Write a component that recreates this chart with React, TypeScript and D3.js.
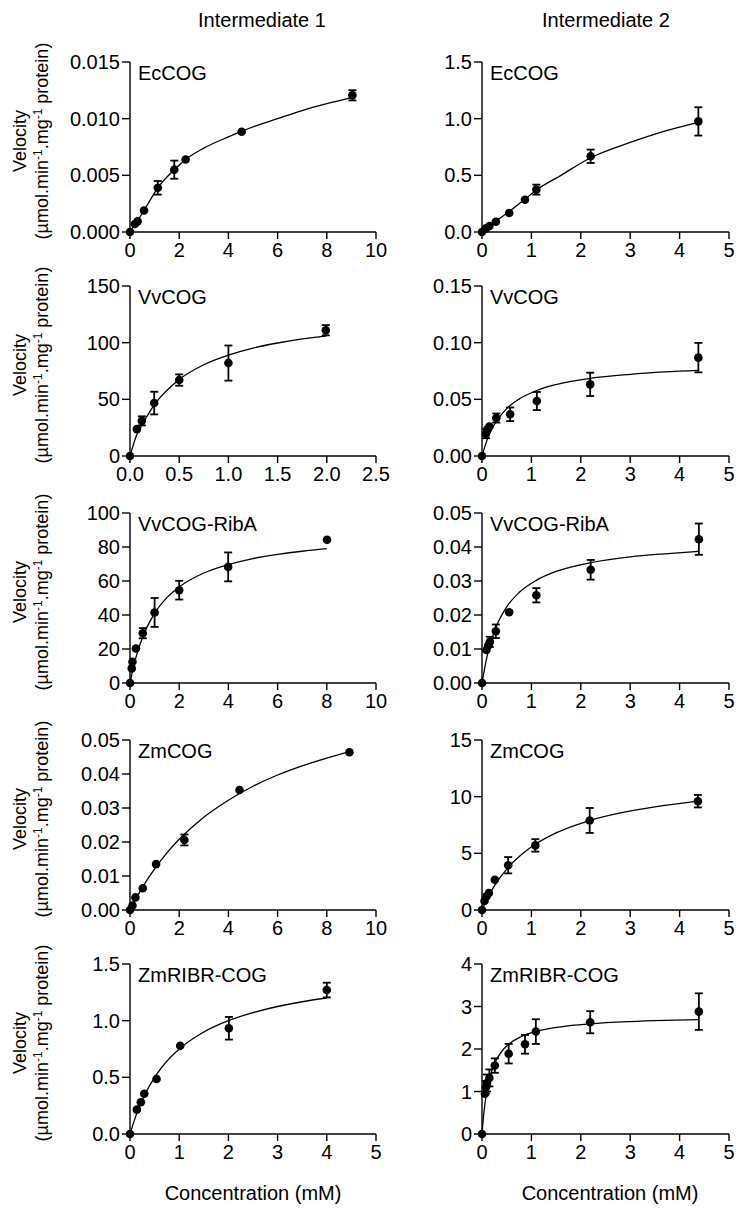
import React from 'react';
import * as d3 from 'd3';

const FONT = '"Liberation Sans", Arial, Helvetica, sans-serif';

const columnTitles = ['Intermediate 1', 'Intermediate 2'];
const xAxisTitle = 'Concentration (mM)';

// ---------- Intermediate 1 ----------
// EcCOG
const i1EcX = [0, 0.2, 0.31, 0.57, 1.13, 1.8, 2.26, 4.54, 9.04];
const i1EcY = [0, 0.0007, 0.00094, 0.0019, 0.0039, 0.0055, 0.0064, 0.00885, 0.01206];
const i1EcErr = [0, 0.0002, 0.00035, 0.0001, 0.0006, 0.0008, 0.0001, 0.00035, 0.00045];
const i1EcFitX = [0, 0.25, 0.57, 1.13, 1.8, 2.26, 3, 4, 4.54, 6, 7, 8, 9.04];
const i1EcFitY = [0, 0.0008, 0.0019, 0.0039, 0.0055, 0.0064, 0.0074, 0.0084, 0.0089, 0.01, 0.01072, 0.01132, 0.01188];
// VvCOG
const i1VvX = [0, 0.07, 0.12, 0.246, 0.5, 1.0, 1.99];
const i1VvY = [0, 23.7, 31, 46.7, 67, 82, 111];
const i1VvErr = [0, 2, 4, 10, 5, 15.5, 4.5];
const i1VvFitX = [0, 0.07, 0.12, 0.25, 0.5, 0.75, 1, 1.25, 1.5, 1.75, 2];
const i1VvFitY = [0, 19, 27, 45.5, 67.5, 80.5, 89, 95.2, 99.7, 103.3, 106];
// VvCOG-RibA
const i1VrX = [0, 0.07, 0.1, 0.24, 0.52, 1.0, 2.0, 3.99, 8.01];
const i1VrY = [0, 8.6, 12.5, 20.3, 29.3, 41.5, 54.6, 68.3, 84.3];
const i1VrErr = [0, 1.5, 2, 1.5, 3, 8.5, 5.5, 8.5, 1.5];
const i1VrFitX = [0, 0.1, 0.25, 0.5, 1, 1.5, 2, 3, 4, 5, 6, 7, 8];
const i1VrFitY = [0, 6.9, 15.5, 26.5, 41, 50.2, 56.5, 64.7, 69.7, 73.2, 75.6, 77.5, 79];
// ZmCOG
const i1ZmX = [0, 0.1, 0.22, 0.52, 1.06, 2.21, 4.45, 8.92];
const i1ZmY = [0, 0.0013, 0.0037, 0.0064, 0.0135, 0.0206, 0.0353, 0.0464];
const i1ZmErr = [0, 0.0002, 0.0003, 0.0003, 0.0003, 0.0016, 0.0003, 0.0008];
const i1ZmFitX = [0, 0.5, 1, 1.5, 2, 3, 4, 5, 6, 7, 8, 8.92];
const i1ZmFitY = [0, 0.0066, 0.0121, 0.0168, 0.0208, 0.0273, 0.0323, 0.0364, 0.0397, 0.0424, 0.0447, 0.0466];
// ZmRIBR-COG
const i1ZrX = [0, 0.14, 0.22, 0.29, 0.54, 1.02, 2.01, 4.0];
const i1ZrY = [0, 0.215, 0.28, 0.355, 0.485, 0.778, 0.933, 1.27];
const i1ZrErr = [0, 0.03, 0.02, 0.035, 0.02, 0.01, 0.1, 0.065];
const i1ZrFitX = [0, 0.14, 0.29, 0.54, 0.75, 1.02, 1.5, 2, 2.5, 3, 3.5, 4];
const i1ZrFitY = [0, 0.184, 0.337, 0.526, 0.643, 0.757, 0.9, 1.0, 1.071, 1.125, 1.167, 1.2];

// ---------- Intermediate 2 ----------
// EcCOG
const i2EcX = [0, 0.08, 0.15, 0.28, 0.55, 0.87, 1.1, 2.2, 4.38];
const i2EcY = [0, 0.032, 0.053, 0.091, 0.168, 0.285, 0.374, 0.668, 0.976];
const i2EcErr = [0, 0.01, 0.01, 0.015, 0.015, 0.015, 0.044, 0.059, 0.125];
const i2EcFitX = [0, 0.28, 0.55, 0.87, 1.1, 1.6, 2.2, 3, 3.7, 4.4];
const i2EcFitY = [0, 0.095, 0.18, 0.29, 0.37, 0.5, 0.655, 0.79, 0.89, 0.97];
// VvCOG
const i2VvX = [0, 0.08, 0.11, 0.15, 0.29, 0.57, 1.11, 2.19, 4.38];
const i2VvY = [0, 0.0197, 0.0235, 0.026, 0.0335, 0.0368, 0.0485, 0.0632, 0.0868];
const i2VvErr = [0, 0.004, 0.003, 0.002, 0.004, 0.006, 0.008, 0.0103, 0.013];
const i2VvFitX = [0, 0.1, 0.2, 0.3, 0.5, 0.75, 1.11, 1.5, 2.19, 3, 3.7, 4.38];
const i2VvFitY = [0, 0.0138, 0.0238, 0.031, 0.0418, 0.0502, 0.0578, 0.063, 0.0685, 0.0721, 0.0742, 0.0756];
// VvCOG-RibA
const i2VrX = [0, 0.09, 0.13, 0.16, 0.28, 0.55, 1.1, 2.2, 4.39];
const i2VrY = [0, 0.0097, 0.0111, 0.0121, 0.0152, 0.0208, 0.0258, 0.0333, 0.0423];
const i2VrErr = [0, 0.001, 0.0012, 0.0015, 0.002, 0.0012, 0.0021, 0.0029, 0.0046];
const i2VrFitX = [0, 0.1, 0.2, 0.3, 0.5, 0.75, 1.1, 1.5, 2.2, 3, 3.7, 4.39];
const i2VrFitY = [0, 0.0077, 0.013, 0.017, 0.0224, 0.0266, 0.0302, 0.0328, 0.0354, 0.0371, 0.038, 0.0387];
// ZmCOG
const i2ZmX = [0, 0.05, 0.09, 0.14, 0.26, 0.53, 1.08, 2.18, 4.37];
const i2ZmY = [0, 0.8, 1.2, 1.5, 2.67, 3.95, 5.7, 7.9, 9.6];
const i2ZmErr = [0, 0.1, 0.15, 0.15, 0.15, 0.72, 0.55, 1.1, 0.55];
const i2ZmFitX = [0, 0.1, 0.26, 0.53, 0.8, 1.08, 1.5, 2.18, 2.8, 3.5, 4.37];
const i2ZmFitY = [0, 0.946, 2.19, 3.76, 4.9, 5.8, 6.8, 7.89, 8.56, 9.1, 9.6];
// ZmRIBR-COG
const i2ZrX = [0, 0.06, 0.08, 0.1, 0.15, 0.26, 0.54, 0.87, 1.09, 2.19, 4.39];
const i2ZrY = [0, 0.95, 1.1, 1.2, 1.32, 1.61, 1.89, 2.11, 2.41, 2.63, 2.88];
const i2ZrErr = [0, 0.1, 0.15, 0.2, 0.2, 0.17, 0.23, 0.22, 0.29, 0.26, 0.43];
const i2ZrFitX = [0, 0.03, 0.06, 0.1, 0.15, 0.26, 0.4, 0.54, 0.8, 1.09, 1.6, 2.19, 3, 3.7, 4.39];
const i2ZrFitY = [0, 0.408, 0.712, 1.014, 1.288, 1.67, 1.944, 2.112, 2.295, 2.411, 2.523, 2.592, 2.645, 2.673, 2.692];

// ---------- axis ticks ----------
const xTicks10 = [0, 2, 4, 6, 8, 10];
const xTicks10Labels = ['0', '2', '4', '6', '8', '10'];
const xTicks25 = [0, 0.5, 1, 1.5, 2, 2.5];
const xTicks25Labels = ['0.0', '0.5', '1.0', '1.5', '2.0', '2.5'];
const xTicks5 = [0, 1, 2, 3, 4, 5];
const xTicks5Labels = ['0', '1', '2', '3', '4', '5'];

const yTicksI1Ec = [0, 0.005, 0.01, 0.015];
const yLabelsI1Ec = ['0.000', '0.005', '0.010', '0.015'];
const yTicksI1Vv = [0, 50, 100, 150];
const yLabelsI1Vv = ['0', '50', '100', '150'];
const yTicksI1Vr = [0, 20, 40, 60, 80, 100];
const yLabelsI1Vr = ['0', '20', '40', '60', '80', '100'];
const yTicksI1Zm = [0, 0.01, 0.02, 0.03, 0.04, 0.05];
const yLabelsI1Zm = ['0.00', '0.01', '0.02', '0.03', '0.04', '0.05'];
const yTicksI1Zr = [0, 0.5, 1, 1.5];
const yLabelsI1Zr = ['0.0', '0.5', '1.0', '1.5'];

const yTicksI2Ec = [0, 0.5, 1, 1.5];
const yLabelsI2Ec = ['0.0', '0.5', '1.0', '1.5'];
const yTicksI2Vv = [0, 0.05, 0.1, 0.15];
const yLabelsI2Vv = ['0.00', '0.05', '0.10', '0.15'];
const yTicksI2Vr = [0, 0.01, 0.02, 0.03, 0.04, 0.05];
const yLabelsI2Vr = ['0.00', '0.01', '0.02', '0.03', '0.04', '0.05'];
const yTicksI2Zm = [0, 5, 10, 15];
const yLabelsI2Zm = ['0', '5', '10', '15'];
const yTicksI2Zr = [0, 1, 2, 3, 4];
const yLabelsI2Zr = ['0', '1', '2', '3', '4'];

type PanelDef = {
  name: string;
  xs: number[]; ys: number[]; errs: number[];
  fitX: number[]; fitY: number[];
  xTicks: number[]; xLabels: string[];
  yTicks: number[]; yLabels: string[];
};

const col1: PanelDef[] = [
  { name: 'EcCOG', xs: i1EcX, ys: i1EcY, errs: i1EcErr, fitX: i1EcFitX, fitY: i1EcFitY, xTicks: xTicks10, xLabels: xTicks10Labels, yTicks: yTicksI1Ec, yLabels: yLabelsI1Ec },
  { name: 'VvCOG', xs: i1VvX, ys: i1VvY, errs: i1VvErr, fitX: i1VvFitX, fitY: i1VvFitY, xTicks: xTicks25, xLabels: xTicks25Labels, yTicks: yTicksI1Vv, yLabels: yLabelsI1Vv },
  { name: 'VvCOG-RibA', xs: i1VrX, ys: i1VrY, errs: i1VrErr, fitX: i1VrFitX, fitY: i1VrFitY, xTicks: xTicks10, xLabels: xTicks10Labels, yTicks: yTicksI1Vr, yLabels: yLabelsI1Vr },
  { name: 'ZmCOG', xs: i1ZmX, ys: i1ZmY, errs: i1ZmErr, fitX: i1ZmFitX, fitY: i1ZmFitY, xTicks: xTicks10, xLabels: xTicks10Labels, yTicks: yTicksI1Zm, yLabels: yLabelsI1Zm },
  { name: 'ZmRIBR-COG', xs: i1ZrX, ys: i1ZrY, errs: i1ZrErr, fitX: i1ZrFitX, fitY: i1ZrFitY, xTicks: xTicks5, xLabels: xTicks5Labels, yTicks: yTicksI1Zr, yLabels: yLabelsI1Zr },
];
const col2: PanelDef[] = [
  { name: 'EcCOG', xs: i2EcX, ys: i2EcY, errs: i2EcErr, fitX: i2EcFitX, fitY: i2EcFitY, xTicks: xTicks5, xLabels: xTicks5Labels, yTicks: yTicksI2Ec, yLabels: yLabelsI2Ec },
  { name: 'VvCOG', xs: i2VvX, ys: i2VvY, errs: i2VvErr, fitX: i2VvFitX, fitY: i2VvFitY, xTicks: xTicks5, xLabels: xTicks5Labels, yTicks: yTicksI2Vv, yLabels: yLabelsI2Vv },
  { name: 'VvCOG-RibA', xs: i2VrX, ys: i2VrY, errs: i2VrErr, fitX: i2VrFitX, fitY: i2VrFitY, xTicks: xTicks5, xLabels: xTicks5Labels, yTicks: yTicksI2Vr, yLabels: yLabelsI2Vr },
  { name: 'ZmCOG', xs: i2ZmX, ys: i2ZmY, errs: i2ZmErr, fitX: i2ZmFitX, fitY: i2ZmFitY, xTicks: xTicks5, xLabels: xTicks5Labels, yTicks: yTicksI2Zm, yLabels: yLabelsI2Zm },
  { name: 'ZmRIBR-COG', xs: i2ZrX, ys: i2ZrY, errs: i2ZrErr, fitX: i2ZrFitX, fitY: i2ZrFitY, xTicks: xTicks5, xLabels: xTicks5Labels, yTicks: yTicksI2Zr, yLabels: yLabelsI2Zr },
];

// ---------- layout ----------
const W = 736;
const H = 1211;
const ROW_TOP = [62, 286, 513, 740, 964];
const PANEL_H = 170;
const COL_LEFT = [130, 482];
const PANEL_W = [246, 247];
const TICK = 8;
const R = 4.3;

function Panel({ p, col, row }: { p: PanelDef; col: number; row: number }) {
  const x0 = COL_LEFT[col];
  const top = ROW_TOP[row];
  const x = d3.scaleLinear().domain([p.xTicks[0], p.xTicks[p.xTicks.length - 1]]).range([x0, x0 + PANEL_W[col]]);
  const y = d3.scaleLinear().domain([p.yTicks[0], p.yTicks[p.yTicks.length - 1]]).range([top + PANEL_H, top]);
  const line = d3.line<number>()
    .x((_, i) => x(p.fitX[i]))
    .y((d) => y(d))
    .curve(d3.curveMonotoneX);
  const fitPath = line(p.fitY) || '';
  const yb = y(p.yTicks[0]);
  const xl = x(p.xTicks[0]);
  return (
    <g>
      {/* y axis */}
      <line x1={xl} x2={xl} y1={y(p.yTicks[p.yTicks.length - 1])} y2={yb} stroke="#000" strokeWidth={1.4} />
      {p.yTicks.map((t, i) => (
        <g key={'yt' + i}>
          <line x1={xl - TICK} x2={xl} y1={y(t)} y2={y(t)} stroke="#000" strokeWidth={1.4} />
          <text x={xl - TICK - 2} y={y(t)} dy="0.35em" textAnchor="end" fontSize={20} fontFamily={FONT} fill="#000">{p.yLabels[i]}</text>
        </g>
      ))}
      {/* x axis */}
      <line x1={xl} x2={x(p.xTicks[p.xTicks.length - 1])} y1={yb} y2={yb} stroke="#000" strokeWidth={1.4} />
      {p.xTicks.map((t, i) => (
        <g key={'xt' + i}>
          <line x1={x(t)} x2={x(t)} y1={yb} y2={yb + TICK - 1} stroke="#000" strokeWidth={1.4} />
          <text x={x(t)} y={yb + 25} textAnchor="middle" fontSize={20} fontFamily={FONT} fill="#000">{p.xLabels[i]}</text>
        </g>
      ))}
      {/* panel label */}
      <text x={xl + 8} y={top + 18} fontSize={20} fontFamily={FONT} fill="#000">{p.name}</text>
      {/* fit curve */}
      <path d={fitPath} fill="none" stroke="#000" strokeWidth={1.3} />
      {/* error bars */}
      {p.xs.map((xv, i) => {
        const e = p.errs[i];
        const cx = x(xv);
        const y1 = y(p.ys[i] + e);
        const y2 = y(p.ys[i] - e);
        if (Math.abs(y2 - y1) / 2 < R) return null;
        return (
          <g key={'e' + i} stroke="#000" strokeWidth={1.8}>
            <line x1={cx} x2={cx} y1={y1} y2={y2} />
            <line x1={cx - 4} x2={cx + 4} y1={y1} y2={y1} />
            <line x1={cx - 4} x2={cx + 4} y1={y2} y2={y2} />
          </g>
        );
      })}
      {/* points */}
      {p.xs.map((xv, i) => (
        <circle key={'c' + i} cx={x(xv)} cy={y(p.ys[i])} r={R} fill="#000" />
      ))}
    </g>
  );
}

function YLabel({ row }: { row: number }) {
  const cy = ROW_TOP[row] + PANEL_H / 2 - 6;
  return (
    <g fontFamily={FONT} fontSize={18} fill="#000">
      <text transform={`translate(26,${cy}) rotate(-90)`} textAnchor="middle">Velocity</text>
      <text transform={`translate(48,${cy}) rotate(-90)`} textAnchor="middle">
        (µmol.min<tspan dy={-6} fontSize={12}>-1</tspan><tspan dy={6}>.mg</tspan><tspan dy={-6} fontSize={12}>-1</tspan><tspan dy={6}> protein)</tspan>
      </text>
    </g>
  );
}

export default function App() {
  return (
    <svg width={W} height={H} style={{ position: 'absolute', left: 0, top: 0, background: '#fff' }}>
      <rect width={W} height={H} fill="#fff" />
      <text x={262} y={27} textAnchor="middle" fontSize={20} fontFamily={FONT}>{columnTitles[0]}</text>
      <text x={606} y={27} textAnchor="middle" fontSize={20} fontFamily={FONT}>{columnTitles[1]}</text>
      {col1.map((p, i) => <Panel key={'a' + i} p={p} col={0} row={i} />)}
      {col2.map((p, i) => <Panel key={'b' + i} p={p} col={1} row={i} />)}
      {col1.map((_, i) => <YLabel key={'yl' + i} row={i} />)}
      <text x={253} y={1200} textAnchor="middle" fontSize={20} fontFamily={FONT}>{xAxisTitle}</text>
      <text x={610} y={1200} textAnchor="middle" fontSize={20} fontFamily={FONT}>{xAxisTitle}</text>
    </svg>
  );
}
